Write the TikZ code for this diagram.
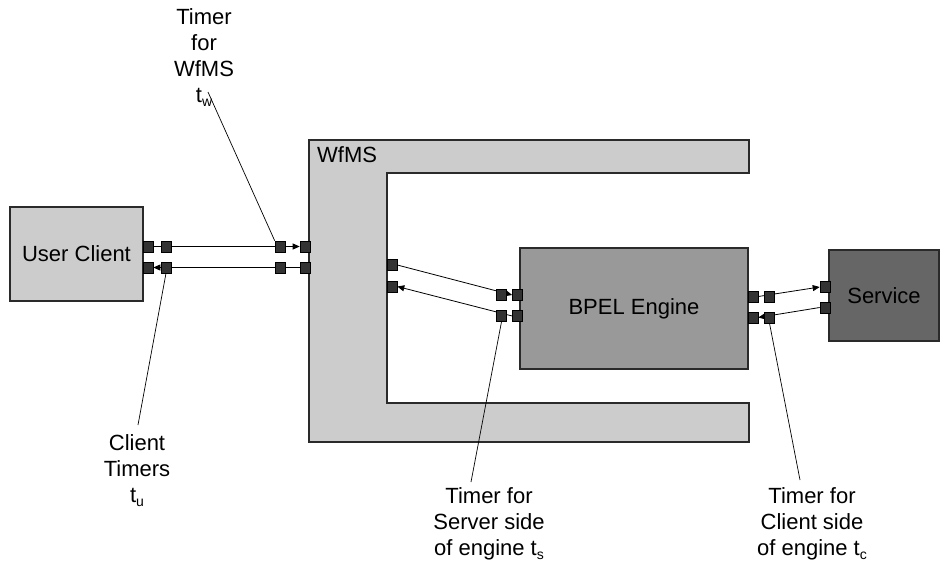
\documentclass[tikz,border=0pt]{standalone}
\usepackage{fontspec}
\setmainfont{Liberation Sans}
\usetikzlibrary{arrows.meta}
\pgfdeclarelayer{back}
\pgfdeclarelayer{mid}
\pgfsetlayers{back,mid,main}
\definecolor{lgray}{HTML}{CCCCCC}
\definecolor{mgray}{HTML}{999999}
\definecolor{dgray}{HTML}{666666}
\definecolor{pgray}{HTML}{333333}
\definecolor{edgec}{HTML}{2A2A2A}
\newcommand{\tsub}[1]{\raisebox{-0.4ex}{\fontsize{14}{14}\selectfont #1}}
\begin{document}
\begin{tikzpicture}[x=1pt,y=-1pt,
  box/.style={draw=edgec,line width=1.3pt,inner sep=0pt,font=\fontsize{22}{26}\selectfont},
  port/.style={draw=black,fill=pgray,line width=0.6pt,minimum width=10pt,minimum height=11pt,inner sep=0pt},
  link/.style={line width=0.8pt,-{Triangle[length=7pt,width=6pt]}},
  pointer/.style={line width=0.7pt},
  lbl/.style={align=center,inner sep=0pt,anchor=north,font=\fontsize{22}{26}\selectfont}]
\useasboundingbox (0,0) rectangle (940,565);
\begin{pgfonlayer}{back}
\draw[fill=lgray,draw=edgec,line width=1.3pt] (309,140) -- (749,140) -- (749,173) -- (387,173) -- (387,403) -- (749,403) -- (749,442) -- (309,442) -- cycle;
\node[box,fill=lgray,minimum width=133pt,minimum height=94pt] (uc) at (76.5,254) {User Client};
\node[box,fill=mgray,minimum width=228pt,minimum height=121pt] (bpel) at (634,308.5) {BPEL Engine};
\node[box,fill=dgray,minimum width=110pt,minimum height=91pt] (svc) at (884,295.5) {Service};
\end{pgfonlayer}
\node[anchor=west,inner sep=0pt,font=\fontsize{22}{26}\selectfont] (wfmslbl) at (317,155) {WfMS};
% ports
\node[port] (p1) at (148,246.5) {};
\node[port] (p2) at (166,246.5) {};
\node[port] (p3) at (280,246.5) {};
\node[port] (p4) at (305,246.5) {};
\node[port] (q1) at (148,267.5) {};
\node[port] (q2) at (166,267.5) {};
\node[port] (q3) at (280,267.5) {};
\node[port] (q4) at (305,267.5) {};
\node[port] (m1) at (392,265) {};
\node[port] (m2) at (392,286.5) {};
\node[port] (b1) at (501.5,295) {};
\node[port] (b2) at (517.5,295) {};
\node[port] (b3) at (501.5,316) {};
\node[port] (b4) at (517.5,316) {};
\node[port] (r1) at (753,296.5) {};
\node[port] (r2) at (769.5,296.5) {};
\node[port] (r3) at (753,317.5) {};
\node[port] (r4) at (769.5,317.5) {};
\node[port] (s1) at (825,287) {};
\node[port] (s2) at (825,307.5) {};
% labels
\node[lbl] (tw) at (204,8) {Timer\\for\\WfMS\\t\tsub{w}};
\node[lbl] (tu) at (137,434) {Client\\Timers\\t\tsub{u}};
\node[lbl] (ts) at (489,487) {Timer for\\Server side\\of engine t\tsub{s}};
\node[lbl] (tc) at (812,487) {Timer for\\Client side\\of engine t\tsub{c}};
\coordinate (twp) at (208,92);
\coordinate (tup) at (138,425);
\coordinate (tsp) at (471,482);
\coordinate (tcp) at (800,480);
\begin{pgfonlayer}{mid}
\draw[link] (p1.east) -- (p4.west);
\draw[link] (q4.west) -- (q1.east);
\draw[link] (m1.east) -- (b2.west);
\draw[link] (b4.west) -- (m2.east);
\draw[link] (r1.east) -- (s1.west);
\draw[link] (s2.west) -- (r3.east);
\draw[pointer] (twp) -- (p3.north west);
\draw[pointer] (tup) -- (q2.south);
\draw[pointer] (tsp) -- (b3.south);
\draw[pointer] (tcp) -- (r4.south);
\end{pgfonlayer}
\end{tikzpicture}
\end{document}
